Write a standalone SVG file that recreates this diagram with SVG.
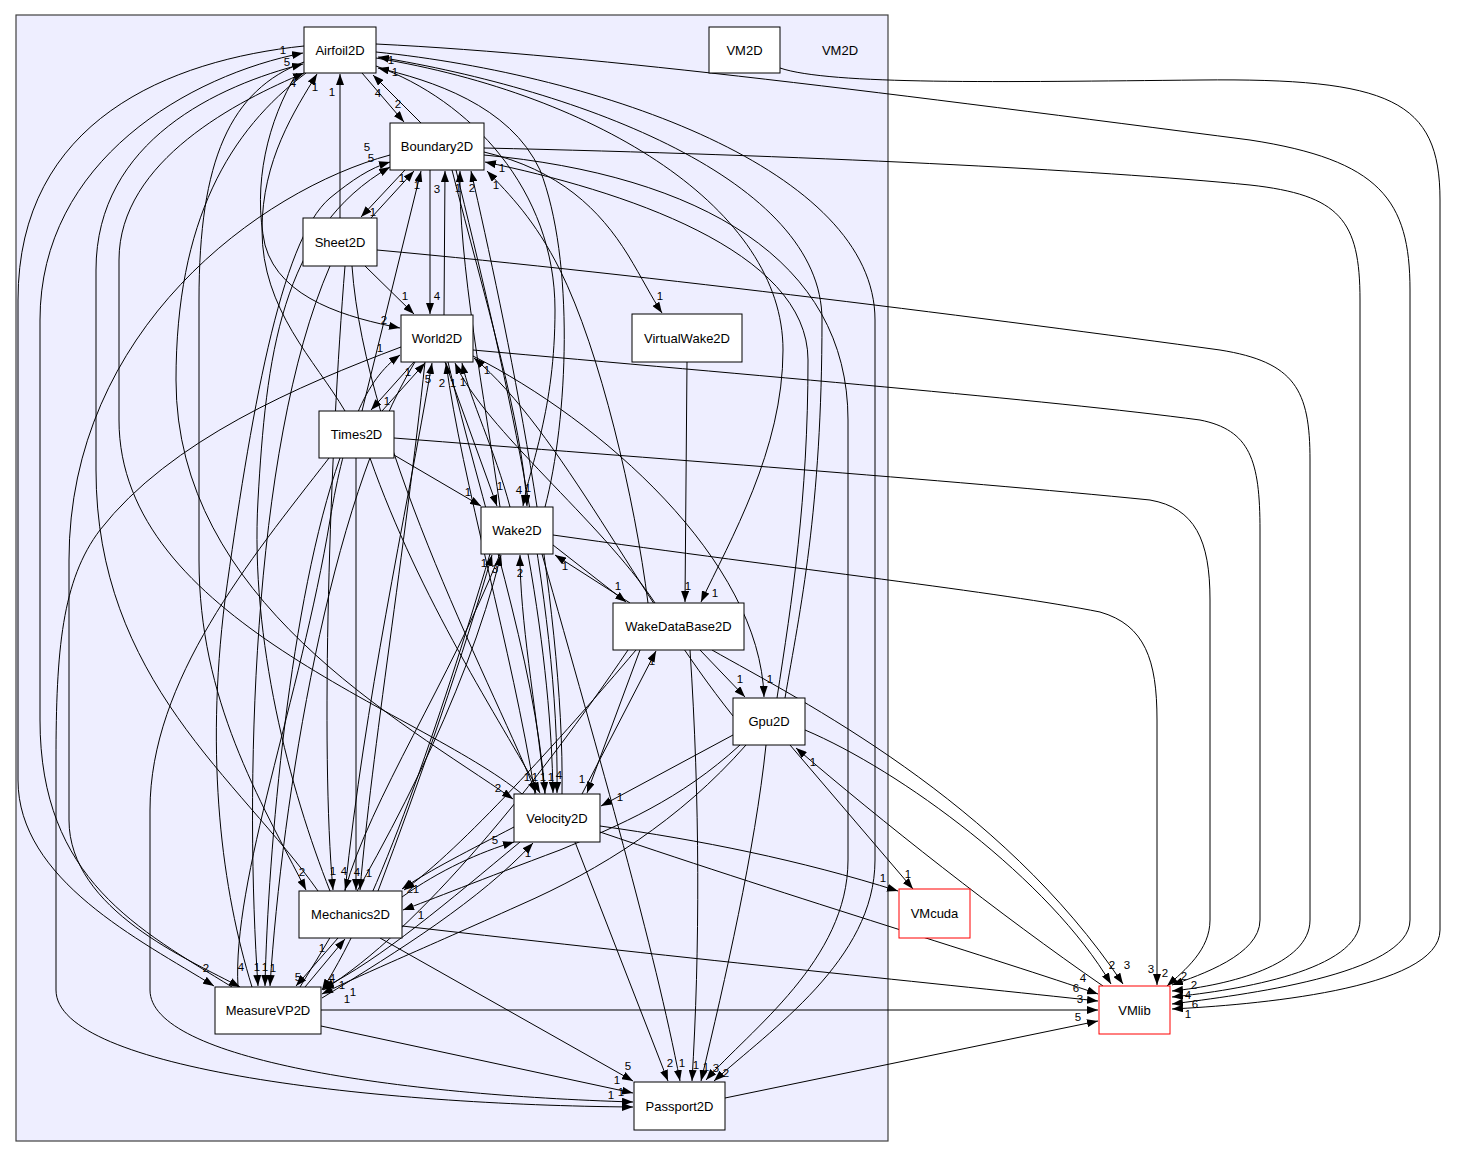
<svg xmlns="http://www.w3.org/2000/svg" width="1471" height="1157" viewBox="0 0 1471 1157">
<defs>
<marker id="a" viewBox="0 0 11 8" refX="11" refY="4" markerWidth="11" markerHeight="8" markerUnits="userSpaceOnUse" orient="auto"><path d="M0,0 L11,4 L0,8 z" fill="#000"/></marker>
<style>
text{font-family:"Liberation Sans",Arial,sans-serif}
.c{fill:#eeeeff;stroke:#404040;stroke-width:1.2}
.n rect{fill:#fff;stroke:#000;stroke-width:1}
.x rect{fill:#fff;stroke:#ff0000;stroke-width:1}
.t{font-size:13px;text-anchor:middle;fill:#000}
#edges path{fill:none;stroke:#000;stroke-width:1;marker-end:url(#a)}
.l{font-size:11.5px;text-anchor:middle;fill:#000}
</style>
</defs>
<rect width="1471" height="1157" fill="#fff"/>
<g id="cluster-VM2D">
<rect class="c" x="16" y="15" width="872" height="1126"/>
<text class="t" x="840" y="55">VM2D</text>
</g>
<g id="edges">
<path d="M362,73 L404,122"/>
<path d="M421,123 L373,75"/>
<path d="M340,218 L340,74"/>
<path d="M345,411 C315,360 262,310 262,230 C262,160 295,110 317,74"/>
<path d="M297,73 C268,120 252,185 265,245 C280,300 350,318 400,328"/>
<path d="M304,46 C170,60 18,120 18,300 L18,780 C18,880 140,940 214,986"/>
<path d="M232,987 C140,930 40,880 40,720 L40,320 C40,160 190,75 303,53"/>
<path d="M304,62 C230,90 199,160 199,300 L199,560 C199,700 260,800 306,890"/>
<path d="M318,891 C240,780 96,680 96,470 L96,270 C96,140 220,85 303,64"/>
<path d="M306,73 C230,130 176,220 176,380 C176,600 400,720 513,799"/>
<path d="M522,794 C420,710 119,620 119,420 L119,260 C119,160 240,100 304,73"/>
<path d="M376,44 C600,55 900,95 1250,140 C1380,160 1410,200 1410,290 L1410,920 C1410,975 1240,995 1172,1004"/>
<path d="M780,68 C830,85 1000,82 1200,80 C1390,78 1440,100 1440,200 L1440,930 C1440,990 1250,1005 1172,1009"/>
<path d="M376,52 C600,75 875,170 875,320 L875,860 C875,960 770,1030 714,1081"/>
<path d="M376,58 C600,95 783,210 783,350 C783,450 730,540 701,602"/>
<path d="M785,698 C800,610 822,510 822,320 C822,180 580,90 378,57"/>
<path d="M545,507 C568,420 575,260 540,170 C510,105 430,80 378,68"/>
<path d="M376,66 C470,100 555,190 555,310 C555,410 530,465 523,506"/>
<path d="M405,170 L361,217"/>
<path d="M371,218 L414,171"/>
<path d="M430,170 L430,314"/>
<path d="M444,315 L445,171"/>
<path d="M484,152 C560,170 600,210 628,255 C642,278 652,298 662,313"/>
<path d="M484,148 C800,155 1100,170 1250,185 C1340,195 1360,220 1360,300 L1360,920 C1360,970 1240,990 1172,997"/>
<path d="M484,155 C700,175 848,260 848,420 L848,860 C848,960 750,1030 706,1080"/>
<path d="M252,987 C222,890 205,760 225,600 C250,420 280,240 330,198 C352,180 370,168 390,162"/>
<path d="M330,891 C290,790 250,640 258,500 C266,360 280,230 390,167"/>
<path d="M390,155 C260,190 69,330 69,560 L69,820 C69,910 190,960 240,987"/>
<path d="M362,411 L421,171"/>
<path d="M500,507 C485,400 458,260 460,171"/>
<path d="M562,794 C565,600 505,320 471,171"/>
<path d="M648,603 C635,500 600,350 560,270 C535,220 510,195 487,171"/>
<path d="M777,698 C792,600 808,500 808,360 C808,250 620,190 485,162"/>
<path d="M365,266 L414,314"/>
<path d="M414,362 L371,410"/>
<path d="M382,411 L425,363"/>
<path d="M473,350 C750,375 1050,400 1200,420 C1250,430 1260,460 1260,530 L1260,920 C1260,955 1200,975 1172,985"/>
<path d="M377,250 C650,275 1000,320 1220,350 C1295,362 1310,390 1310,460 L1310,920 C1310,965 1230,985 1172,991"/>
<path d="M394,438 C650,458 950,480 1150,500 C1195,508 1210,540 1210,600 L1210,920 C1210,950 1185,970 1167,986"/>
<path d="M553,535 C800,570 1000,592 1100,612 C1145,625 1157,660 1157,720 L1157,985"/>
<path d="M394,455 L481,506"/>
<path d="M445,362 L497,506"/>
<path d="M510,507 C495,450 470,400 462,363"/>
<path d="M452,170 C485,300 522,420 527,506"/>
<path d="M401,347 C300,385 170,440 100,530 C62,580 56,650 56,760 L56,990 C56,1070 380,1105 633,1107"/>
<path d="M329,458 C250,560 150,680 150,810 L150,990 C150,1060 400,1095 633,1102"/>
<path d="M238,987 C232,880 300,700 330,520 C345,430 365,380 400,355"/>
<path d="M345,891 C365,700 405,520 432,363"/>
<path d="M535,794 C512,650 462,480 446,363"/>
<path d="M733,716 C640,600 560,430 474,358"/>
<path d="M655,603 C600,520 485,430 455,363"/>
<path d="M473,356 C600,420 760,560 764,697"/>
<path d="M425,362 C405,550 372,750 360,890"/>
<path d="M415,362 C330,500 282,800 270,986"/>
<path d="M448,362 C480,500 535,660 545,793"/>
<path d="M630,603 L555,555"/>
<path d="M553,545 L626,602"/>
<path d="M378,891 C420,780 465,650 492,555"/>
<path d="M300,987 C385,850 465,700 501,555"/>
<path d="M545,794 C535,700 520,620 520,555"/>
<path d="M500,554 C450,680 370,800 345,890"/>
<path d="M490,554 C440,720 380,900 322,990"/>
<path d="M528,554 C545,650 552,730 553,793"/>
<path d="M542,554 C600,760 655,950 680,1081"/>
<path d="M687,362 L685,602"/>
<path d="M582,794 L656,651"/>
<path d="M640,650 L587,793"/>
<path d="M700,650 L745,697"/>
<path d="M636,650 C560,740 460,850 404,890"/>
<path d="M628,650 C540,780 420,930 323,990"/>
<path d="M690,650 C700,800 700,950 692,1081"/>
<path d="M712,650 C800,700 1000,800 1123,984"/>
<path d="M733,735 L601,806"/>
<path d="M740,745 C680,800 620,825 560,850 C480,880 430,900 403,910"/>
<path d="M746,745 C680,820 600,870 520,905 C420,950 360,975 322,994"/>
<path d="M766,745 C755,850 725,980 701,1081"/>
<path d="M805,730 C900,770 1050,880 1111,984"/>
<path d="M790,745 L913,889"/>
<path d="M1103,986 C1000,915 880,820 796,748"/>
<path d="M600,826 C700,840 800,860 898,891"/>
<path d="M600,832 C800,900 1000,960 1098,994"/>
<path d="M575,842 L668,1081"/>
<path d="M514,827 C470,850 430,870 402,889"/>
<path d="M402,897 C440,870 480,852 514,842"/>
<path d="M520,842 C450,900 380,960 323,988"/>
<path d="M322,998 C400,950 480,900 533,843"/>
<path d="M352,266 C365,450 500,700 536,793"/>
<path d="M370,458 C420,600 500,720 540,793"/>
<path d="M456,170 C500,350 560,600 557,793"/>
<path d="M356,458 L356,890"/>
<path d="M338,938 L296,986"/>
<path d="M305,987 L345,939"/>
<path d="M330,266 C250,450 245,800 258,986"/>
<path d="M340,458 C290,600 268,850 265,986"/>
<path d="M345,266 C330,450 320,750 333,890"/>
<path d="M380,938 L633,1081"/>
<path d="M321,1026 L633,1093"/>
<path d="M725,1098 L1098,1021"/>
<path d="M402,926 C700,960 950,985 1098,1001"/>
<path d="M321,1010 L1098,1010"/>
<text class="l" x="398" y="108">2</text>
<text class="l" x="378" y="97">4</text>
<text class="l" x="332" y="96">1</text>
<text class="l" x="315" y="91">1</text>
<text class="l" x="384" y="324">2</text>
<text class="l" x="206" y="972">2</text>
<text class="l" x="283" y="54">1</text>
<text class="l" x="302" y="876">2</text>
<text class="l" x="287" y="66">5</text>
<text class="l" x="498" y="792">2</text>
<text class="l" x="293" y="87">4</text>
<text class="l" x="1195" y="1008">6</text>
<text class="l" x="1188" y="1018">1</text>
<text class="l" x="726" y="1077">2</text>
<text class="l" x="715" y="597">1</text>
<text class="l" x="391" y="64">1</text>
<text class="l" x="395" y="76">1</text>
<text class="l" x="519" y="494">4</text>
<text class="l" x="373" y="216">1</text>
<text class="l" x="402" y="182">1</text>
<text class="l" x="437" y="300">4</text>
<text class="l" x="437" y="193">3</text>
<text class="l" x="660" y="300">1</text>
<text class="l" x="1188" y="999">4</text>
<text class="l" x="716" y="1072">3</text>
<text class="l" x="371" y="162">5</text>
<text class="l" x="367" y="151">5</text>
<text class="l" x="241" y="971">4</text>
<text class="l" x="417" y="189">1</text>
<text class="l" x="458" y="192">1</text>
<text class="l" x="472" y="192">2</text>
<text class="l" x="496" y="189">1</text>
<text class="l" x="502" y="172">1</text>
<text class="l" x="405" y="300">1</text>
<text class="l" x="387" y="405">1</text>
<text class="l" x="408" y="376">1</text>
<text class="l" x="1184" y="980">2</text>
<text class="l" x="1194" y="989">2</text>
<text class="l" x="1165" y="977">2</text>
<text class="l" x="1151" y="973">3</text>
<text class="l" x="468" y="496">1</text>
<text class="l" x="500" y="490">1</text>
<text class="l" x="463" y="386">1</text>
<text class="l" x="528" y="492">1</text>
<text class="l" x="611" y="1099">1</text>
<text class="l" x="621" y="1096">1</text>
<text class="l" x="380" y="352">1</text>
<text class="l" x="428" y="383">5</text>
<text class="l" x="442" y="387">2</text>
<text class="l" x="487" y="374">1</text>
<text class="l" x="453" y="387">1</text>
<text class="l" x="770" y="683">1</text>
<text class="l" x="357" y="876">4</text>
<text class="l" x="273" y="972">1</text>
<text class="l" x="527" y="781">1</text>
<text class="l" x="565" y="570">1</text>
<text class="l" x="618" y="590">1</text>
<text class="l" x="484" y="567">1</text>
<text class="l" x="495" y="573">3</text>
<text class="l" x="520" y="577">2</text>
<text class="l" x="344" y="875">4</text>
<text class="l" x="347" y="1003">1</text>
<text class="l" x="551" y="781">1</text>
<text class="l" x="682" y="1067">1</text>
<text class="l" x="688" y="590">1</text>
<text class="l" x="652" y="665">1</text>
<text class="l" x="582" y="783">1</text>
<text class="l" x="740" y="683">1</text>
<text class="l" x="416" y="893">1</text>
<text class="l" x="342" y="989">1</text>
<text class="l" x="696" y="1069">1</text>
<text class="l" x="1127" y="969">3</text>
<text class="l" x="620" y="801">1</text>
<text class="l" x="421" y="919">1</text>
<text class="l" x="353" y="996">1</text>
<text class="l" x="706" y="1071">1</text>
<text class="l" x="1112" y="969">2</text>
<text class="l" x="908" y="878">1</text>
<text class="l" x="813" y="766">1</text>
<text class="l" x="883" y="882">1</text>
<text class="l" x="1083" y="982">4</text>
<text class="l" x="670" y="1067">2</text>
<text class="l" x="410" y="893">2</text>
<text class="l" x="495" y="844">5</text>
<text class="l" x="332" y="982">4</text>
<text class="l" x="528" y="857">1</text>
<text class="l" x="535" y="781">1</text>
<text class="l" x="543" y="781">1</text>
<text class="l" x="559" y="779">4</text>
<text class="l" x="369" y="877">1</text>
<text class="l" x="298" y="981">5</text>
<text class="l" x="322" y="952">1</text>
<text class="l" x="257" y="971">1</text>
<text class="l" x="265" y="971">1</text>
<text class="l" x="333" y="875">1</text>
<text class="l" x="628" y="1070">5</text>
<text class="l" x="617" y="1084">1</text>
<text class="l" x="1080" y="1003">3</text>
<text class="l" x="1076" y="992">6</text>
<text class="l" x="1078" y="1021">5</text>
</g>
<g id="node-Airfoil2D" class="n"><rect x="304" y="27" width="72" height="46"/><text class="t" x="340" y="54.5">Airfoil2D</text></g>
<g id="node-VM2D" class="n"><rect x="709" y="27" width="71" height="46"/><text class="t" x="744.5" y="54.5">VM2D</text></g>
<g id="node-Boundary2D" class="n"><rect x="390" y="123" width="94" height="47"/><text class="t" x="437" y="151">Boundary2D</text></g>
<g id="node-Sheet2D" class="n"><rect x="303" y="218" width="74" height="48"/><text class="t" x="340" y="246.5">Sheet2D</text></g>
<g id="node-World2D" class="n"><rect x="401" y="315" width="72" height="47"/><text class="t" x="437" y="343">World2D</text></g>
<g id="node-VirtualWake2D" class="n"><rect x="632" y="314" width="110" height="48"/><text class="t" x="687" y="342.5">VirtualWake2D</text></g>
<g id="node-Times2D" class="n"><rect x="319" y="411" width="75" height="47"/><text class="t" x="356.5" y="439">Times2D</text></g>
<g id="node-Wake2D" class="n"><rect x="481" y="507" width="72" height="47"/><text class="t" x="517" y="535">Wake2D</text></g>
<g id="node-WakeDataBase2D" class="n"><rect x="613" y="603" width="131" height="47"/><text class="t" x="678.5" y="631">WakeDataBase2D</text></g>
<g id="node-Gpu2D" class="n"><rect x="733" y="698" width="72" height="47"/><text class="t" x="769" y="726">Gpu2D</text></g>
<g id="node-Velocity2D" class="n"><rect x="514" y="794" width="86" height="48"/><text class="t" x="557" y="822.5">Velocity2D</text></g>
<g id="node-Mechanics2D" class="n"><rect x="299" y="891" width="103" height="47"/><text class="t" x="350.5" y="919">Mechanics2D</text></g>
<g id="node-MeasureVP2D" class="n"><rect x="215" y="987" width="106" height="47"/><text class="t" x="268" y="1015">MeasureVP2D</text></g>
<g id="node-Passport2D" class="n"><rect x="634" y="1082" width="91" height="48"/><text class="t" x="679.5" y="1110.5">Passport2D</text></g>
<g id="node-VMlib" class="x"><rect x="1099" y="986" width="71" height="48"/><text class="t" x="1134.5" y="1014.5">VMlib</text></g>
<g id="node-VMcuda" class="x"><rect x="899" y="889" width="71" height="49"/><text class="t" x="934.5" y="918">VMcuda</text></g>
</svg>
